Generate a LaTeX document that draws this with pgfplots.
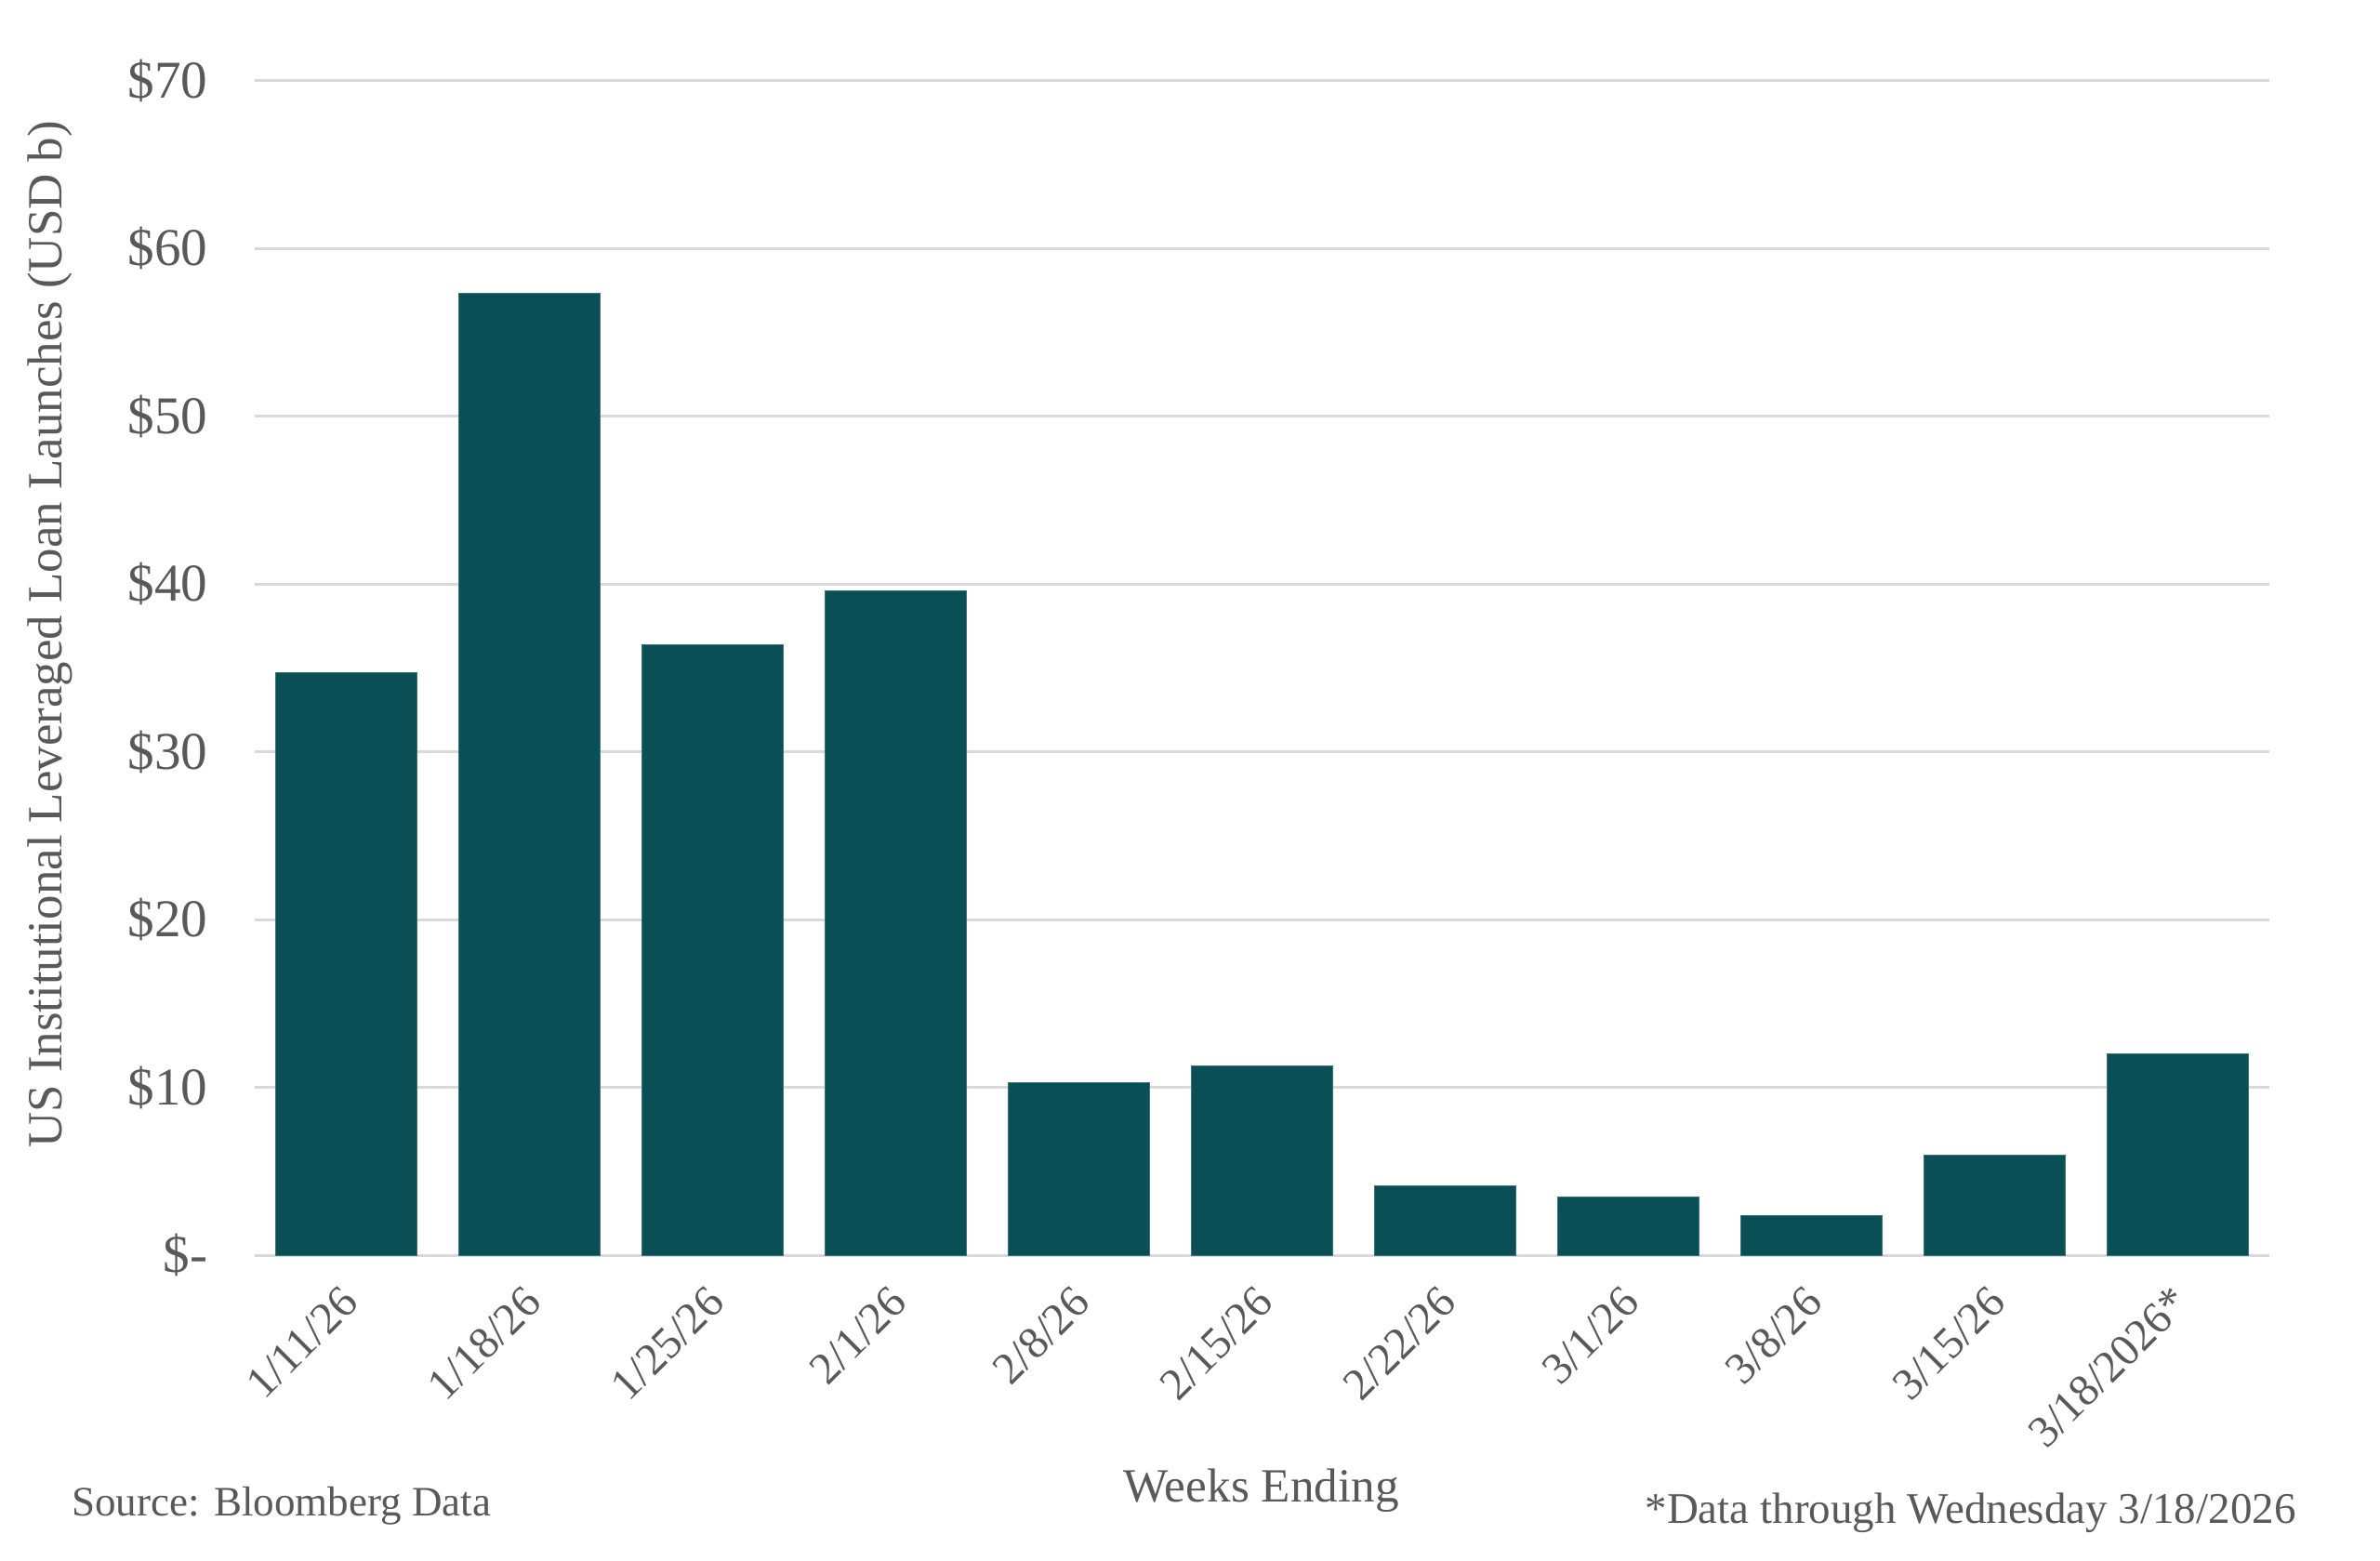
\documentclass[border=0pt]{standalone}
\usepackage{fontspec}
\setmainfont{Liberation Serif}
\usepackage{pgfplots}
\pgfplotsset{compat=1.18}
\definecolor{barc}{HTML}{0A4F55}
\definecolor{txt}{HTML}{595959}
\definecolor{gridc}{HTML}{D9D9D9}
\begin{document}
\begin{tikzpicture}[x=1pt,y=1pt]
\useasboundingbox (0,0) rectangle (784,514);
\begin{axis}[
  at={(84pt,100.5pt)}, anchor=south west,
  scale only axis, width=663.5pt, height=387pt,
  xmin=-0.5, xmax=10.5, ymin=0, ymax=70,
  ytick={0,10,20,30,40,50,60,70},
  yticklabels={\$-,\$10,\$20,\$30,\$40,\$50,\$60,\$70},
  xtick={0,1,2,3,4,5,6,7,8,9,10},
  xticklabels={1/11/26,1/18/26,1/25/26,2/1/26,2/8/26,2/15/26,2/22/26,3/1/26,3/8/26,3/15/26,3/18/2026*},
  x tick label style={xshift=3.5pt, yshift=-10.5pt, rotate=45, anchor=east, font=\fontsize{14.8}{17}\selectfont, text=txt},
  y tick label style={font=\fontsize{17.5}{20}\selectfont, text=txt, xshift=-12pt},
  ymajorgrids, grid style={gridc, line width=0.9pt},
  axis line style={draw=none}, major tick length=0pt,
  clip=false,
]
\addplot[ybar, bar width=46.5pt, fill=barc, draw=barc!80!white, line width=0.3pt] coordinates {
  (0,34.7) (1,57.3) (2,36.4) (3,39.6) (4,10.3) (5,11.3) (6,4.15) (7,3.45) (8,2.35) (9,5.95) (10,12.0)
};
\end{axis}
\node[rotate=90, text=txt, font=\fontsize{16.2}{19}\selectfont] at (16.5,305) {US Institutional Leveraged Loan Launches (USD b)};
\node[text=txt, font=\fontsize{15.7}{19}\selectfont] at (415.5,23) {Weeks Ending};
\node[text=txt, anchor=west, inner sep=0pt, font=\fontsize{13.8}{17}\selectfont] at (23.5,18) {Source: Bloomberg Data};
\node[text=txt, anchor=east, inner sep=0pt, font=\fontsize{14.4}{17}\selectfont] at (756.5,15.5) {*Data through Wednesday 3/18/2026};
\end{tikzpicture}
\end{document}
